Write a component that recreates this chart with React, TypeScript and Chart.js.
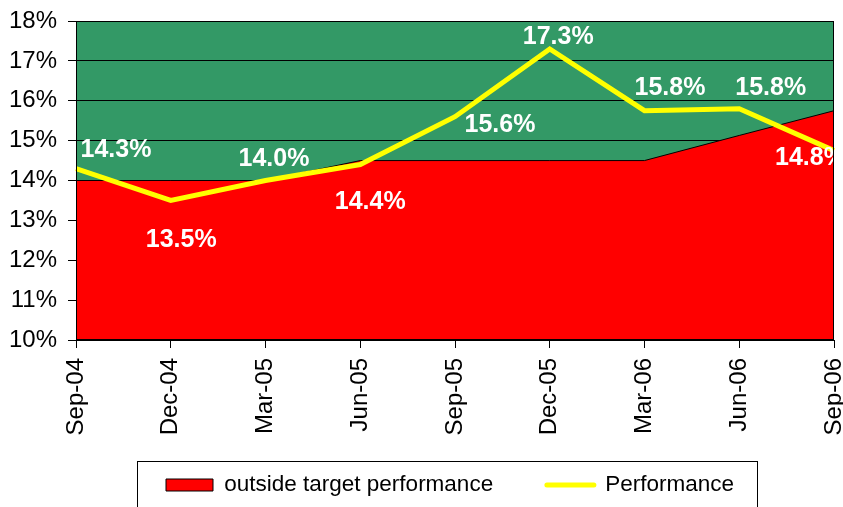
import React, { useEffect, useRef } from 'react';
import { Chart, registerables } from 'chart.js';

Chart.register(...registerables);

const categories = ['Sep-04', 'Dec-04', 'Mar-05', 'Jun-05', 'Sep-05', 'Dec-05', 'Mar-06', 'Jun-06', 'Sep-06'];
const outsideTarget = [14.0, 14.0, 14.0, 14.5, 14.5, 14.5, 14.5, 15.13, 15.75];
const performance = [14.3, 13.5, 14.0, 14.4, 15.6, 17.3, 15.75, 15.8, 14.75];
const yMin = 10;
const yMax = 18;
const yStep = 1;
const legendNames = ['outside target performance', 'Performance'];

// label placement relative to each point (pixels)
const labelOffsets: [number, number][] = [
  [40, -18.5],
  [10.5, 40],
  [8.5, -21.5],
  [10, 38],
  [45, 8.5],
  [8.5, -12],
  [25.5, -23],
  [31.5, -21],
  [-23.5, 7.5],
];

const FONT = '"Liberation Sans", Arial, Helvetica, sans-serif';
const LEGEND_PAD = 53.75;
const LEGEND_FONT = 22.5;
const LEGEND_START_X = 166;
const LEGEND_CENTER_Y = 485;

const customPlugin = {
  id: 'customDecor',
  afterLayout(chart: any) {
    const lg = chart.legend;
    if (!lg || !lg.lineWidths) return;
    const lw = lg.lineWidths[0];
    const width = lg.right - lg.left;
    const sum = 2 * LEGEND_START_X - LEGEND_PAD + lw;
    lg.left = (sum - width) / 2;
    lg.right = lg.left + width;
    lg.top = LEGEND_CENTER_Y - LEGEND_FONT / 2 - LEGEND_PAD;
  },
  beforeDraw(chart: any) {
    const { ctx, chartArea: a } = chart;
    ctx.save();
    ctx.fillStyle = '#339966';
    ctx.fillRect(a.left, a.top, a.right - a.left, a.bottom - a.top);
    ctx.restore();
  },
  afterDatasetsDraw(chart: any) {
    const { ctx, chartArea: a } = chart;
    const meta = chart.getDatasetMeta(0);
    ctx.save();
    ctx.beginPath();
    ctx.rect(a.left, a.top, a.right - a.left, a.bottom - a.top);
    ctx.clip();
    ctx.font = `bold 25px ${FONT}`;
    ctx.fillStyle = '#FFFFFF';
    ctx.textAlign = 'center';
    ctx.textBaseline = 'middle';
    meta.data.forEach((pt: any, i: number) => {
      const [dx, dy] = labelOffsets[i] || [0, -20];
      ctx.fillText(performance[i].toFixed(1) + '%', pt.x + dx, pt.y + dy);
    });
    ctx.restore();

    ctx.save();
    ctx.strokeStyle = '#000000';
    ctx.lineWidth = 1;
    ctx.strokeRect(Math.round(a.left) + 0.5, Math.round(a.top) + 0.5, Math.round(a.right - a.left) - 1, Math.round(a.bottom - a.top) - 1);
    ctx.restore();
  },
  afterDraw(chart: any) {
    const lg = chart.legend;
    if (!lg || !lg.legendHitBoxes || lg.legendHitBoxes.length < 2) return;
    const hb = lg.legendHitBoxes;
    const { ctx } = chart;
    const left = Math.round(hb[0].left - 29) + 0.5;
    const right = Math.round(hb[1].left + hb[1].width + 23) + 0.5;
    const top = Math.round(hb[0].top + hb[0].height / 2 - 24) + 0.5;
    ctx.save();
    ctx.strokeStyle = '#000000';
    ctx.lineWidth = 1;
    ctx.strokeRect(left, top, right - left, 100);
    ctx.restore();
  },
};

export default function App() {
  const canvasRef = useRef<HTMLCanvasElement | null>(null);

  useEffect(() => {
    const canvas = canvasRef.current;
    if (!canvas) return;
    const chart = new Chart(canvas, {
      type: 'line',
      data: {
        labels: categories,
        datasets: [
          {
            label: legendNames[1],
            data: performance,
            borderColor: '#FFFF00',
            backgroundColor: '#FFFF00',
            borderWidth: 5,
            pointRadius: 0,
            fill: false,
            tension: 0,
            order: 0,
          },
          {
            label: legendNames[0],
            data: outsideTarget,
            borderColor: '#000000',
            backgroundColor: '#FF0000',
            borderWidth: 1,
            pointRadius: 0,
            fill: 'start',
            tension: 0,
            order: 1,
          },
        ],
      },
      options: {
        responsive: false,
        animation: false,
        events: [],
        layout: { padding: { top: 21, right: 9, bottom: 0, left: 0 } },
        scales: {
          x: {
            offset: false,
            grid: { drawOnChartArea: false, drawTicks: true, tickLength: 8, color: '#000000', lineWidth: 1 },
            border: { display: false },
            ticks: {
              autoSkip: false,
              minRotation: 90,
              maxRotation: 90,
              padding: 10,
              color: '#000000',
              font: { family: FONT, size: 24 },
            },
            afterFit(scale: any) {
              scale.height = 100;
              scale.paddingLeft = 0;
              scale.paddingRight = 0;
            },
          },
          y: {
            min: yMin,
            max: yMax,
            grid: { drawOnChartArea: true, drawTicks: true, tickLength: 8, color: '#000000', lineWidth: 1 },
            border: { display: false },
            ticks: {
              stepSize: yStep,
              padding: 11,
              color: '#000000',
              font: { family: FONT, size: 24 },
              callback: (v: any) => `${v}%`,
            },
            afterFit(scale: any) {
              scale.width = 76;
              scale.paddingTop = 0;
              scale.paddingBottom = 0;
            },
          },
        },
        plugins: {
          tooltip: { enabled: false },
          title: { display: false },
          legend: {
            display: true,
            position: 'bottom',
            fullSize: false,
            align: 'center',
            maxHeight: 67,
            labels: {
              usePointStyle: true,
              pointStyleWidth: 47,
              boxHeight: 12,
              padding: LEGEND_PAD,
              color: '#000000',
              font: { family: FONT, size: LEGEND_FONT },
              generateLabels: () => [
                {
                  text: legendNames[0],
                  fillStyle: '#FF0000',
                  strokeStyle: '#000000',
                  lineWidth: 1,
                  pointStyle: 'rect',
                  hidden: false,
                  datasetIndex: 1,
                  fontColor: '#000000',
                },
                {
                  text: legendNames[1],
                  fillStyle: '#FFFF00',
                  strokeStyle: '#FFFF00',
                  lineWidth: 5,
                  lineCap: 'round',
                  pointStyle: 'line',
                  hidden: false,
                  datasetIndex: 0,
                  fontColor: '#000000',
                },
              ],
            },
          },
        },
      },
      plugins: [customPlugin],
    } as any);
    return () => chart.destroy();
  }, []);

  return (
    <div style={{ position: 'fixed', left: 0, top: 0, width: 843, height: 507, background: '#FFFFFF' }}>
      <canvas ref={canvasRef} width={843} height={507} style={{ display: 'block', width: 843, height: 507 }} />
    </div>
  );
}
